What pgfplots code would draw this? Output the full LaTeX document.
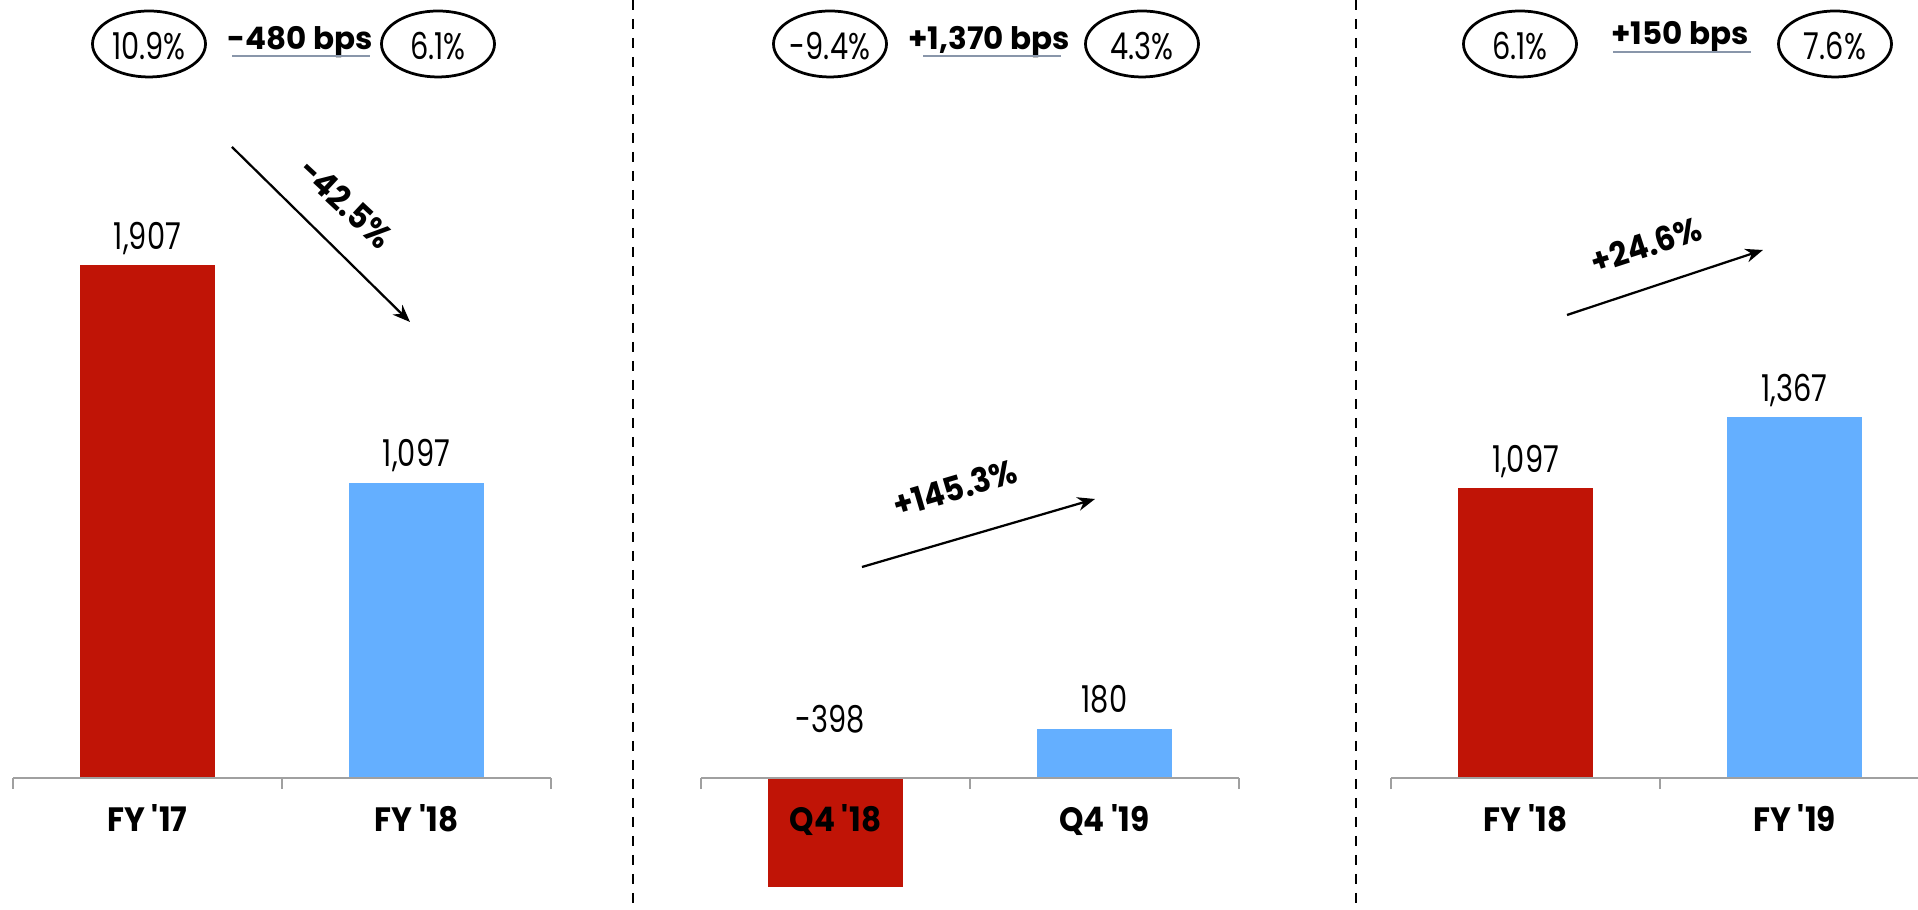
\documentclass[border=0pt]{standalone}
\usepackage{pgfplots}
\pgfplotsset{compat=1.18}
\usetikzlibrary{arrows.meta}
\usepackage{fontspec}
\setmainfont{Poppins}
\newfontfamily\lightf{Poppins}[FakeStretch=0.78]
\newfontfamily\boldf{Poppins}[FakeStretch=0.92]
\newfontfamily\bpsf{Poppins}[FakeStretch=1.0]
\definecolor{cred}{RGB}{192,20,6}
\definecolor{cblue}{RGB}{100,175,255}
\definecolor{axgray}{RGB}{160,160,160}
\definecolor{ulgray}{RGB}{137,150,170}
\newcommand{\lightsize}{\lightf\fontsize{14.8}{16}\selectfont}
\newcommand{\labsize}{\boldf\bfseries\fontsize{13.5}{14}\selectfont}
\newcommand{\bpssize}{\bpsf\bfseries\fontsize{12.4}{14}\selectfont}
\pgfplotsset{
  panel/.style={
    scale only axis, width=215.2pt, height=363.6pt, anchor=south west,
    xmin=-0.5, xmax=1.5,
    axis x line=middle, axis y line=none,
    x axis line style={-, draw=axgray, line width=0.8pt},
    xtick={0,1}, major tick length=0pt,
    extra x ticks={-0.5,0.5,1.5}, extra x tick labels={,,},
    extra x tick style={major tick length=4.4pt, tick align=outside, tick style={draw=axgray, line width=0.8pt}},
    ytick=\empty,
    hide obscured x ticks=false,
    xticklabel style={font=\labsize, anchor=base, yshift=-21.6pt},
    axis on top, clip=false,
    every node near coord/.append style={font=\lightsize, anchor=base, yshift=6.4pt, inner sep=0pt, text=black},
    /pgf/number format/1000 sep={,},
    /pgf/number format/assume math mode=true,
  },
  mybar/.style={ybar, bar width=54pt, draw=none, fill=#1},
}
\begin{document}
\begin{tikzpicture}
\useasboundingbox (0,0) rectangle (767.2pt,363.6pt);
% Panel 1
\begin{axis}[panel, at={(5.2pt,0pt)}, ymin=-487, ymax=2892.2,
  xticklabels={FY \textquotesingle17, FY \textquotesingle18}]
\addplot[mybar=cred, nodes near coords] coordinates {(0,1907)};
\addplot[mybar=cblue, nodes near coords] coordinates {(1,1097)};
\end{axis}
% Panel 2
\begin{axis}[panel, at={(280.4pt,0pt)}, ymin=-478.1, ymax=2839.4,
  xticklabels={Q4 \textquotesingle18, Q4 \textquotesingle19}]
\addplot[mybar=cred] coordinates {(0,-398)};
\addplot[mybar=cblue, nodes near coords] coordinates {(1,180)};
\node[font=\lightsize, anchor=base, xshift=-2.2pt, yshift=18pt, inner sep=0pt] at (axis cs:0,0) {-398};
\end{axis}
% Panel 3
\begin{axis}[panel, at={(556.4pt,0pt)}, ymin=-496.2, ymax=2947,
  xticklabels={FY \textquotesingle18, FY \textquotesingle19}]
\addplot[mybar=cred, nodes near coords] coordinates {(0,1097)};
\addplot[mybar=cblue, nodes near coords] coordinates {(1,1367)};
\end{axis}
% annotations (coordinates in reference pixels, origin top-left)
\begin{scope}[x=0.4pt, y=-0.4pt, yshift=363.6pt]
\draw[dash pattern=on 4pt off 3.6pt, line width=1pt] (633,0) -- (633,909);
\draw[dash pattern=on 4pt off 3.6pt, line width=1pt] (1356,0) -- (1356,909);
% ellipses
\foreach \cx/\t in {149/10.9\%, 438/6.1\%, 830/-9.4\%, 1142/4.3\%, 1520/6.1\%, 1835/7.6\%}{
  \draw[line width=1.1pt] (\cx,44) ellipse [x radius=22.6pt, y radius=13.2pt];
  \node[font=\lightsize, inner sep=0pt] at (\cx,46.5) {\t};
}
% bps
\node[font=\bpssize, anchor=base, inner sep=0pt] at (300,50) {-480 bps};
\draw[ulgray, line width=0.8pt] (232,56) -- (370,56);
\node[font=\bpssize, anchor=base, inner sep=0pt] at (989,50) {+1,370 bps};
\draw[ulgray, line width=0.8pt] (923,56) -- (1061,56);
\node[font=\bpssize, anchor=base, inner sep=0pt] at (1680,45) {+150 bps};
\draw[ulgray, line width=0.8pt] (1613,52) -- (1751,52);
% arrows
\draw[line width=0.9pt, -{Stealth[length=7pt, width=5.5pt]}] (232,147) -- (410,322);
\node[font=\labsize, rotate=-43] at (346,203) {-42.5\%};
\draw[line width=0.9pt, -{Stealth[length=7pt, width=5.5pt]}] (862,567) -- (1095,499);
\node[font=\labsize, rotate=16.5] at (955,488) {+145.3\%};
\draw[line width=0.9pt, -{Stealth[length=7pt, width=5.5pt]}] (1567,315) -- (1763,250);
\node[font=\labsize, rotate=18] at (1646,245) {+24.6\%};
\end{scope}
\end{tikzpicture}
\end{document}
